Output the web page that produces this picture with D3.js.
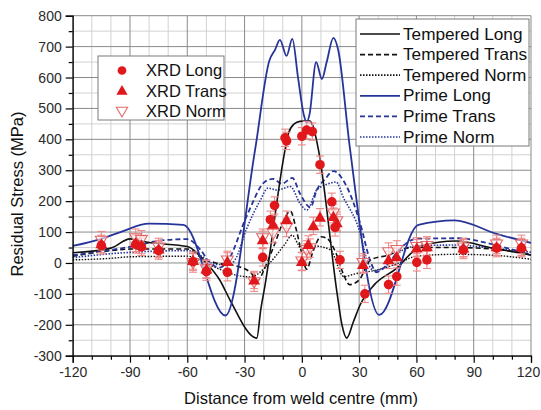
<!DOCTYPE html>
<html>
<head>
<meta charset="utf-8">
<script src="https://cdn.jsdelivr.net/npm/d3@7"></script>
<style>
  body { margin: 0; background: #fff; }
  svg { display: block; font-family: "Liberation Sans", Arial, sans-serif; }
</style>
</head>
<body>
<svg id="chart" width="541" height="410"></svg>
<script>
// ---- Model curves: [distance (mm), residual stress (MPa)] ----
const temperedLong = [
  [-120, 33], [-100, 48], [-90, 78], [-80, 66], [-60, 53], [-50, 0], [-43, -55],
  [-37.6, -120], [-23.6, -243], [-21.5, -150], [-19.5, -80], [-8.8, 366], [-7, 420],
  [-4, 450], [-1, 458], [4, 460], [6, 440], [8.7, 366], [18.5, -100], [21, -200],
  [23.5, -243], [27, -190], [30.5, -136], [38, -70], [50, -15], [57, 30], [62, 55],
  [81, 71], [100, 48], [120, 26]
];
const temperedTrans = [
  [-120, 22], [-100, 40], [-90, 45], [-60, 45], [-52, 15], [-45, 0], [-34, -10],
  [-27, -30], [-23, -55], [-19, -10], [-14, 65], [-10, 130], [-6, 168], [-3, 110],
  [0, 30], [2.5, -20], [6, 40], [10, 85], [13, 80], [18, 30], [22, -40], [25, -70],
  [30, -55], [36, 10], [45, 25], [57, 50], [80, 50], [100, 45], [120, 28]
];
const temperedNorm = [
  [-120, 10], [-100, 15], [-90, 20], [-60, 22], [-52, 5], [-45, -15], [-34, -40],
  [-27, -45], [-20, -20], [-14, 20], [-9, 60], [-5, 90], [-2, 60], [0, 40], [3, 60],
  [8, 55], [15, 42], [22, -44], [28, -35], [39, -23], [51, 0], [60, 22], [80, 28],
  [100, 25], [120, 12]
];
const primeLong = [
  [-120, 55], [-105, 78], [-95, 100], [-80, 127], [-62, 123], [-40, -170], [-24.5, 366],
  [-17, 655], [-14, 690], [-11.5, 722], [-8, 670], [-5, 725], [-2, 600], [1, 480],
  [2.5, 455], [4, 480], [7.5, 650], [10.5, 595], [13, 650], [16.5, 728], [19, 690],
  [25, 380], [40.5, -168], [61, 123], [80, 138], [102, 94], [120, 65]
];
const primeTrans = [
  [-120, 25], [-100, 42], [-85, 58], [-76, 71], [-60, 77], [-53, 42], [-48, 0],
  [-43, -15], [-38.5, 10], [-29, 150], [-19.3, 263], [-15, 272], [-10.5, 256],
  [-5, 275], [-1, 225], [4.5, 180], [7.8, 236], [12, 270], [16.5, 297], [23.5, 247],
  [30.5, 129], [35.7, 10], [39, -30], [44, -10], [52, 50], [60, 78], [82, 80],
  [100, 60], [120, 25]
];
const primeNorm = [
  [-120, 17], [-100, 30], [-85, 36], [-60, 40], [-52, 20], [-45, -5], [-38, -5],
  [-35, 10], [-29, 110], [-22, 200], [-17.7, 242], [-13, 236], [-6, 247], [-1, 193],
  [2.6, 171], [7.8, 236], [14.8, 258], [18, 262], [21.6, 214], [30.5, 97], [34, 10],
  [38, -25], [43, -15], [50, 30], [60, 55], [80, 58], [100, 48], [120, 35]
];

// ---- XRD measurements: [distance (mm), stress (MPa), error (MPa)] ----
const xrdLong = [
  [-105, 57, 28], [-87, 60, 28], [-84, 52, 28], [-75, 40, 28], [-57, 4, 28],
  [-50, -28, 28], [-39, -30, 28], [-20.5, 18, 28], [-16.5, 140, 28], [-14.3, 186, 28],
  [-8.8, 405, 28], [-8, 395, 28], [0, 410, 28], [2.5, 430, 28], [5.5, 425, 28],
  [9.5, 318, 28], [15.7, 198, 28], [17.4, 115, 28], [20, 10, 28], [33, -100, 28],
  [45.4, -70, 28], [49.7, -44, 28], [60.2, 2, 28], [65.5, 10, 28], [84.6, 42, 28],
  [102, 48, 28], [115, 48, 28]
];
const xrdTrans = [
  [-105, 62, 28], [-87, 65, 28], [-84, 58, 28], [-75, 45, 28], [-57, 8, 28],
  [-50, -20, 28], [-39, 5, 28], [-25, -55, 28], [-20.5, 75, 28], [-15, 125, 28],
  [-8, 140, 28], [0, 5, 28], [3.4, 60, 28], [6, 120, 28], [9.5, 148, 28],
  [16.5, 150, 28], [18.3, 130, 28], [32, -5, 28], [45.4, 10, 28], [49.7, 20, 28],
  [60.2, 48, 28], [65.5, 52, 28], [84.6, 48, 28], [102, 52, 28], [115, 52, 28]
];
const xrdNorm = [
  [-105, 72, 30], [-87, 80, 30], [-84, 75, 30], [-75, 50, 30], [-57, 0, 30],
  [-50, -20, 30], [-39, 8, 30], [-25, -62, 30], [-20.5, 80, 30], [-15, 95, 30],
  [-8, 115, 30], [0, 5, 30], [2.5, 42, 30], [4.3, 48, 30], [16.5, 160, 30],
  [18.3, 135, 30], [32, 0, 30], [45.4, 35, 30], [49.7, 42, 30], [60.2, 52, 30],
  [65.5, 55, 30], [84.6, 50, 30], [102, 60, 30], [115, 60, 30]
];

// ---- Axis ticks ----
const xTicks = [-120, -90, -60, -30, 0, 30, 60, 90, 120];
const yTicks = [-300, -200, -100, 0, 100, 200, 300, 400, 500, 600, 700, 800];
const xMinor = d3.range(-120, 121, 10);
const yMinor = d3.range(-300, 801, 50);

const svg = d3.select("#chart");
const x = d3.scaleLinear().domain([-120, 120]).range([72.7, 531]);
const y = d3.scaleLinear().domain([-300, 800]).range([355.7, 15.7]);

const BLACK = "#111";
const BLUE = "#26349a";
const RED = "#e0181c";
const PINK = "#ee8a8a";

// grid
const grid = svg.append("g");
grid.selectAll(".gxm").data(xMinor.filter(v => !xTicks.includes(v))).join("line")
  .attr("x1", d => x(d)).attr("x2", d => x(d)).attr("y1", y(-300)).attr("y2", y(800))
  .attr("stroke", "#d2d2d2").attr("stroke-width", 1);
grid.selectAll(".gym").data(yMinor.filter(v => !yTicks.includes(v))).join("line")
  .attr("y1", d => y(d)).attr("y2", d => y(d)).attr("x1", x(-120)).attr("x2", x(120))
  .attr("stroke", "#d2d2d2").attr("stroke-width", 1);
grid.selectAll(".gx").data(xTicks).join("line")
  .attr("x1", d => x(d)).attr("x2", d => x(d)).attr("y1", y(-300)).attr("y2", y(800))
  .attr("stroke", "#8a8a8a").attr("stroke-width", 1);
grid.selectAll(".gy").data(yTicks).join("line")
  .attr("y1", d => y(d)).attr("y2", d => y(d)).attr("x1", x(-120)).attr("x2", x(120))
  .attr("stroke", "#8a8a8a").attr("stroke-width", 1);

// curves
const line = d3.line().x(d => x(d[0])).y(d => y(d[1])).curve(d3.curveMonotoneX);
const curves = [
  { data: temperedNorm, color: BLACK, dash: "1.5,1.5", w: 1.4 },
  { data: primeNorm, color: BLUE, dash: "1.5,1.5", w: 1.6 },
  { data: temperedTrans, color: BLACK, dash: "5,3", w: 1.6 },
  { data: primeTrans, color: BLUE, dash: "5,3", w: 1.8 },
  { data: temperedLong, color: BLACK, dash: null, w: 1.6 },
  { data: primeLong, color: BLUE, dash: null, w: 1.8 }
];
svg.append("g").selectAll("path").data(curves).join("path")
  .attr("d", c => line(c.data))
  .attr("fill", "none")
  .attr("stroke", c => c.color)
  .attr("stroke-width", c => c.w)
  .attr("stroke-dasharray", c => c.dash);

// error bars
const allXrd = [...xrdNorm, ...xrdTrans, ...xrdLong];
const eb = svg.append("g").attr("stroke", PINK).attr("stroke-width", 1.1);
eb.selectAll(".v").data(allXrd).join("line")
  .attr("x1", d => x(d[0])).attr("x2", d => x(d[0]))
  .attr("y1", d => y(d[1] - d[2])).attr("y2", d => y(d[1] + d[2]));
eb.selectAll(".t").data(allXrd).join("line")
  .attr("x1", d => x(d[0]) - 4).attr("x2", d => x(d[0]) + 4)
  .attr("y1", d => y(d[1] + d[2])).attr("y2", d => y(d[1] + d[2]));
eb.selectAll(".b").data(allXrd).join("line")
  .attr("x1", d => x(d[0]) - 4).attr("x2", d => x(d[0]) + 4)
  .attr("y1", d => y(d[1] - d[2])).attr("y2", d => y(d[1] - d[2]));

// markers
const circ = d3.symbol().type(d3.symbolCircle).size(72);
const tri = d3.symbol().type(d3.symbolTriangle).size(62);
const mk = svg.append("g");
mk.selectAll(".n").data(xrdNorm).join("path")
  .attr("d", tri())
  .attr("transform", d => `translate(${x(d[0])},${y(d[1]) - 1}) rotate(180)`)
  .attr("fill", "#fff").attr("fill-opacity", 0.6)
  .attr("stroke", "#e36a6a").attr("stroke-width", 1.1);
mk.selectAll(".t").data(xrdTrans).join("path")
  .attr("d", tri())
  .attr("transform", d => `translate(${x(d[0])},${y(d[1]) + 1})`)
  .attr("fill", RED);
mk.selectAll(".c").data(xrdLong).join("path")
  .attr("d", circ())
  .attr("transform", d => `translate(${x(d[0])},${y(d[1])})`)
  .attr("fill", RED);

// axes (plain hyphen for negative numbers)
const fmt = d => String(d);
const ax = svg.append("g");
const xAxis = ax.append("g").attr("transform", `translate(0,${y(-300)})`)
  .call(d3.axisBottom(x).tickValues(xTicks).tickSize(7).tickPadding(4).tickFormat(fmt));
const xAxisMinor = ax.append("g").attr("transform", `translate(0,${y(-300)})`)
  .call(d3.axisBottom(x).tickValues(xMinor.filter(v => !xTicks.includes(v))).tickSize(4).tickFormat(""));
const yAxis = ax.append("g").attr("transform", `translate(${x(-120)},0)`)
  .call(d3.axisLeft(y).tickValues(yTicks).tickSize(7).tickPadding(4).tickFormat(fmt));
const yAxisMinor = ax.append("g").attr("transform", `translate(${x(-120)},0)`)
  .call(d3.axisLeft(y).tickValues(yMinor.filter(v => !yTicks.includes(v))).tickSize(4).tickFormat(""));
[xAxis, xAxisMinor, yAxis, yAxisMinor].forEach(g => {
  g.attr("font-family", null).attr("font-size", null);
  g.selectAll("text").attr("fill", "#2a2a2a").style("font-size", "14px");
  g.selectAll("line, path").attr("stroke", "#000").attr("stroke-width", 1.2);
});
xAxisMinor.select(".domain").remove();
yAxisMinor.select(".domain").remove();
// keep the last x label inside the canvas
xAxis.selectAll(".tick").filter(d => d === 120).select("text").attr("dx", -3);

// axis titles
svg.append("text")
  .attr("x", 301).attr("y", 404)
  .attr("text-anchor", "middle").attr("font-size", 16.5).attr("fill", "#111")
  .text("Distance from weld centre (mm)");
svg.append("text")
  .attr("transform", "translate(23,194) rotate(-90)")
  .attr("text-anchor", "middle").attr("font-size", 16.5).attr("fill", "#111")
  .text("Residual Stress (MPa)");

// legend: XRD data
const leg1 = svg.append("g");
leg1.append("rect").attr("x", 98).attr("y", 56).attr("width", 126).attr("height", 64)
  .attr("fill", "#fff").attr("stroke", "#7a7a7a").attr("stroke-width", 1);
const leg1Items = [
  { label: "XRD Long", kind: "circle", y: 70.5 },
  { label: "XRD Trans", kind: "tri", y: 91 },
  { label: "XRD Norm", kind: "open", y: 111.5 }
];
leg1Items.forEach(it => {
  const g = leg1.append("g");
  if (it.kind === "circle") {
    g.append("path").attr("d", d3.symbol().type(d3.symbolCircle).size(60)())
      .attr("transform", `translate(122,${it.y})`).attr("fill", RED);
  } else if (it.kind === "tri") {
    g.append("path").attr("d", d3.symbol().type(d3.symbolTriangle).size(55)())
      .attr("transform", `translate(122,${it.y + 0.5})`).attr("fill", RED);
  } else {
    g.append("path").attr("d", d3.symbol().type(d3.symbolTriangle).size(55)())
      .attr("transform", `translate(122,${it.y - 1}) rotate(180)`)
      .attr("fill", "none").attr("stroke", "#e36a6a").attr("stroke-width", 1.1);
  }
  g.append("text").attr("x", 146).attr("y", it.y + 5.5)
    .attr("font-size", 16.5).attr("fill", "#111").text(it.label);
});

// legend: model curves
const leg2 = svg.append("g");
leg2.append("rect").attr("x", 356).attr("y", 19).attr("width", 173).attr("height", 127)
  .attr("fill", "#fff").attr("stroke", "#7a7a7a").attr("stroke-width", 1);
const leg2Items = [
  { label: "Tempered Long", color: BLACK, dash: null },
  { label: "Tempered Trans", color: BLACK, dash: "5,3" },
  { label: "Tempered Norm", color: BLACK, dash: "1.5,1.5" },
  { label: "Prime Long", color: BLUE, dash: null },
  { label: "Prime Trans", color: BLUE, dash: "5,3" },
  { label: "Prime Norm", color: BLUE, dash: "1.5,1.5" }
];
leg2Items.forEach((it, i) => {
  const yy = 34 + i * 20.6;
  leg2.append("line").attr("x1", 360).attr("x2", 400).attr("y1", yy).attr("y2", yy)
    .attr("stroke", it.color).attr("stroke-width", 1.7).attr("stroke-dasharray", it.dash);
  leg2.append("text").attr("x", 403).attr("y", yy + 5.5)
    .attr("font-size", 17.2).attr("fill", "#111").text(it.label);
});
</script>
</body>
</html>
